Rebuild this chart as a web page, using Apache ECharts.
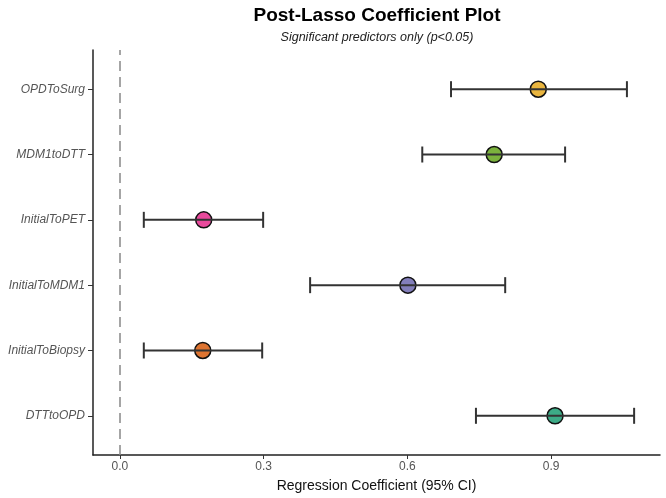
<!DOCTYPE html>
<html>
<head>
    <meta charset="utf-8">
    <title>Post-Lasso Coefficient Plot</title>
    <script src="https://cdn.jsdelivr.net/npm/echarts@6/dist/echarts.min.js"></script>
</head>
<body style="margin:0;">
<div id="main" style="width: 666px;height:498px;"></div>
<script type="text/javascript">

    // predictors, bottom to top
    var predictors = ['DTTtoOPD', 'InitialToBiopsy', 'InitialToMDM1', 'InitialToPET', 'MDM1toDTT', 'OPDToSurg'];
    var estimate = [0.908, 0.173, 0.601, 0.175, 0.781, 0.873];
    var ciLow = [0.743, 0.050, 0.397, 0.050, 0.631, 0.691];
    var ciHigh = [1.073, 0.297, 0.804, 0.299, 0.929, 1.058];
    var pointColors = ['#3dab87', '#dd7431', '#837fbb', '#e84a9c', '#7bb23d', '#e9b53f'];
    var xTicks = [0, 0.3, 0.6, 0.9];

    var fontFam = '"Liberation Sans", Arial, sans-serif';

    var pointData = [];
    var barData = [];
    for (var i = 0; i < predictors.length; i++) {
        pointData.push({value: [estimate[i], i], itemStyle: {color: pointColors[i]}});
        barData.push([i, ciLow[i], ciHigh[i]]);
    }

    // horizontal error bar with end caps
    function renderBar(params, api) {
        var y = api.value(0);
        var p1 = api.coord([api.value(1), y]);
        var p2 = api.coord([api.value(2), y]);
        var cap = 8;
        var style = {stroke: '#333', lineWidth: 2, fill: null};
        return {
            type: 'group',
            children: [
                {type: 'line', shape: {x1: p1[0], y1: p1[1], x2: p2[0], y2: p2[1]}, style: style},
                {type: 'line', shape: {x1: p1[0], y1: p1[1] - cap, x2: p1[0], y2: p1[1] + cap}, style: style},
                {type: 'line', shape: {x1: p2[0], y1: p2[1] - cap, x2: p2[0], y2: p2[1] + cap}, style: style}
            ]
        };
    }

    var myChart = echarts.init(document.getElementById('main'));

    var option = {
        animation: false,
        backgroundColor: '#fff',
        graphic: [
            {type: 'text', x: 377, y: 6, style: {text: 'Post-Lasso Coefficient Plot', font: 'bold 19px ' + fontFam, fill: '#000', align: 'center'}},
            {type: 'text', x: 377, y: 31, style: {text: 'Significant predictors only (p<0.05)', font: 'italic 12.5px ' + fontFam, fill: '#222', align: 'center'}}
        ],
        grid: {left: 93, right: 6, top: 50, bottom: 43},
        xAxis: {
            type: 'value',
            min: -0.056,
            max: 1.127,
            name: 'Regression Coefficient (95% CI)',
            nameLocation: 'middle',
            nameGap: 24,
            nameTextStyle: {color: '#111', fontSize: 14, fontFamily: fontFam},
            axisLine: {show: true, onZero: false, lineStyle: {color: '#222', width: 1.5}},
            axisTick: {show: true, customValues: xTicks, length: 4, lineStyle: {color: '#333'}},
            axisLabel: {
                customValues: xTicks,
                color: '#555',
                fontSize: 12,
                fontFamily: fontFam,
                margin: 6,
                formatter: function (v) { return v.toFixed(1); }
            },
            splitLine: {show: false}
        },
        yAxis: {
            type: 'value',
            min: -0.6,
            max: 5.6,
            axisLine: {show: true, onZero: false, lineStyle: {color: '#222', width: 1.5}},
            axisTick: {show: true, customValues: [0, 1, 2, 3, 4, 5], length: 5, lineStyle: {color: '#333'}},
            axisLabel: {
                customValues: [0, 1, 2, 3, 4, 5],
                color: '#555',
                fontSize: 12,
                fontStyle: 'italic',
                fontFamily: fontFam,
                margin: 8,
                formatter: function (v) { return predictors[Math.round(v)]; }
            },
            splitLine: {show: false}
        },
        series: [
            {
                type: 'scatter',
                symbolSize: 16,
                z: 2,
                itemStyle: {borderColor: '#111', borderWidth: 1.5, opacity: 1},
                data: pointData,
                markLine: {
                    silent: true,
                    symbol: 'none',
                    label: {show: false},
                    lineStyle: {color: '#888', type: [10, 6], width: 1.5},
                    data: [{xAxis: 0}]
                }
            },
            {
                type: 'custom',
                z: 3,
                renderItem: renderBar,
                encode: {x: [1, 2], y: 0},
                data: barData
            }
        ]
    };

    myChart.setOption(option);

</script>
</body>
</html>
